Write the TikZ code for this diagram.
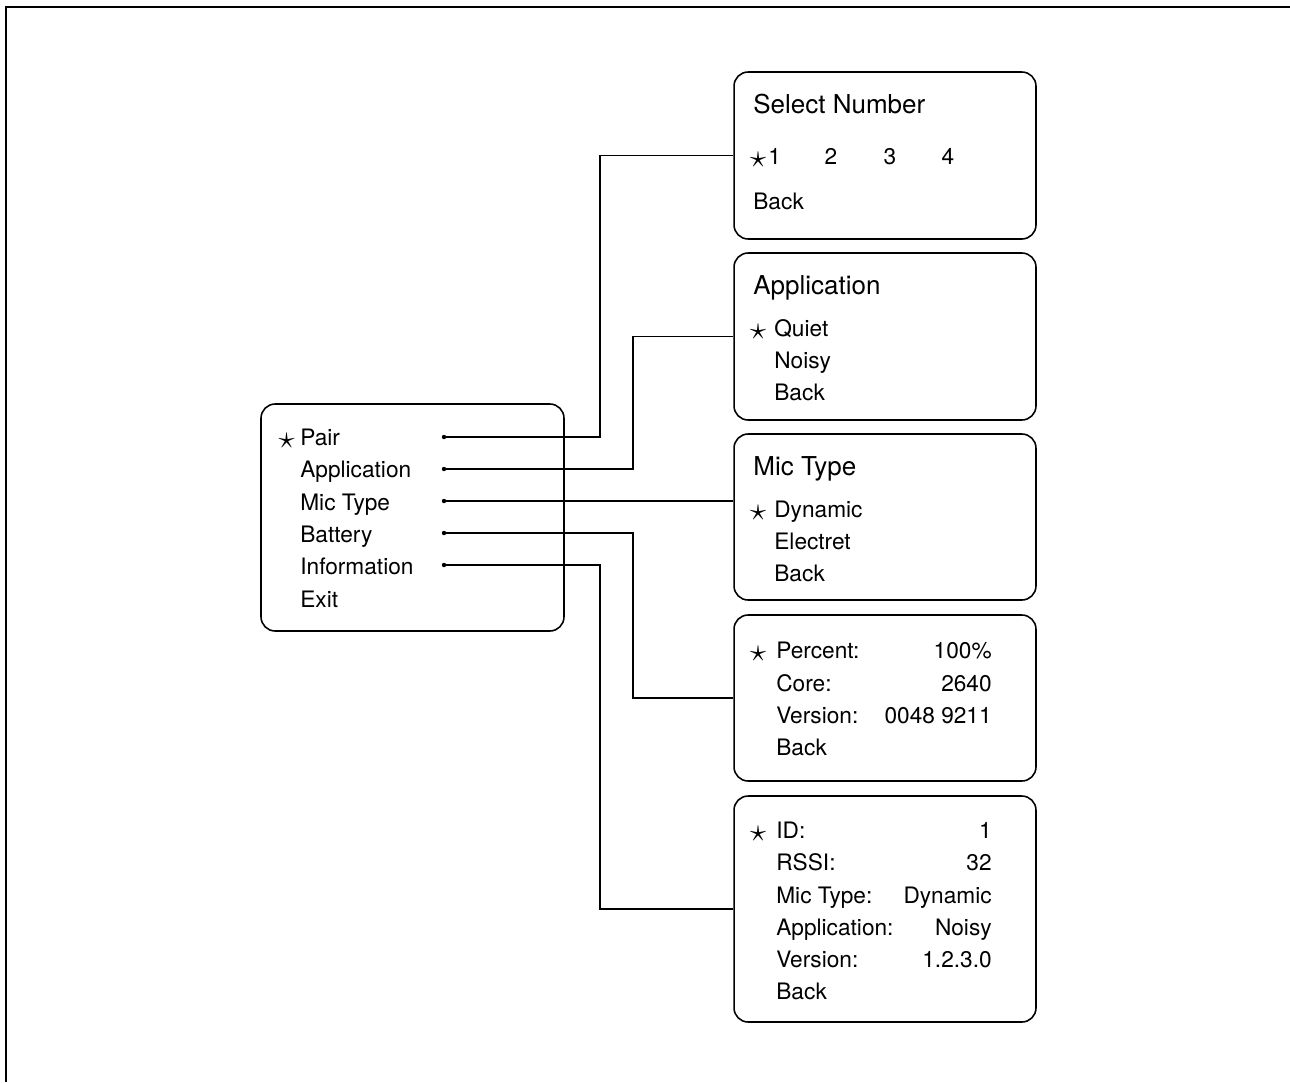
\documentclass[tikz,border=0pt]{standalone}
\usepackage{fontspec}
\setmainfont{TeX Gyre Heros}
\tikzset{
  menubox/.style={draw, line width=0.9pt, rounded corners=8pt, minimum width=6.04cm, inner sep=0pt},
  entry/.style={anchor=base west, inner sep=0pt, font=\fontsize{12.9}{15}\selectfont},
  value/.style={anchor=base east, inner sep=0pt, font=\fontsize{12.9}{15}\selectfont},
  title/.style={anchor=base west, inner sep=0pt, font=\fontsize{14.8}{17}\selectfont},
  link/.style={line width=0.8pt},
}
\newcommand{\selmark}{\raisebox{-2.2pt}{\scalebox{1.55}{$\star$}}}

\begin{document}
\begin{tikzpicture}[x=0.02cm, y=-0.02cm]
\useasboundingbox (0,0) rectangle (1290,1082);
% frame
\draw[line width=1.1pt] (6,1082) -- (6,7) -- (1290,7);

% main menu
\node[menubox, minimum width=6.06cm, minimum height=4.54cm] (main) at (412.5,517.5) {};
\node[entry, anchor=base] (mainsel) at (286.5,445) {\selmark};
\foreach \name/\txt/\y in {pair/Pair/445, app/Application/477, mic/Mic Type/510,
                           bat/Battery/542, info/Information/574, exit/Exit/607}
  \node[entry] (\name) at (300,\y) {\txt};

% end dots of the links
\foreach \name/\y in {pair/437, app/469, mic/501, bat/533, info/565}{
  \coordinate (d\name) at (444,\y);
  \fill (d\name) circle (2.2);
}

% select number
\node[menubox, minimum height=3.34cm] (selnum) at (885,155.5) {};
\node[title] (selnumtitle) at (753,113) {Select Number};
\node[entry, anchor=base] (selnumsel) at (758,164) {\selmark};
\node[entry] (n1) at (768,164) {1};
\foreach \n/\x in {2/831, 3/890, 4/948}
  \node[entry, anchor=base] (n\n) at (\x,164) {\n};
\node[entry] (selnumback) at (753,209) {Back};

% application
\node[menubox, minimum height=3.34cm] (appbox) at (885,336.5) {};
\node[title] (apptitle) at (753,294) {Application};
\node[entry, anchor=base] (appsel) at (758,336) {\selmark};
\foreach \name/\txt/\y in {quiet/Quiet/336, noisy/Noisy/368, appback/Back/400}
  \node[entry] (\name) at (774,\y) {\txt};

% mic type
\node[menubox, minimum height=3.32cm] (micbox) at (885,517) {};
\node[title] (mictitle) at (753,475) {Mic Type};
\node[entry, anchor=base] (micsel) at (758,517) {\selmark};
\foreach \name/\txt/\y in {dynamic/Dynamic/517, electret/Electret/549, micback/Back/581}
  \node[entry] (\name) at (774,\y) {\txt};

% battery
\node[menubox, minimum height=3.32cm] (batbox) at (885,698) {};
\node[entry, anchor=base] (batsel) at (758,658) {\selmark};
\foreach \name/\txt/\y in {percent/Percent:/658, core/Core:/691, batver/Version:/723, batback/Back/755}
  \node[entry] (\name) at (776,\y) {\txt};
\foreach \name/\txt/\y in {percentval/100\%/658, coreval/2640/691, batverval/0048 9211/723}
  \node[value] (\name) at (992,\y) {\txt};

% information
\node[menubox, minimum height=4.52cm] (infobox) at (885,909) {};
\node[entry, anchor=base] (infosel) at (758,838) {\selmark};
\foreach \name/\txt/\y in {id/ID:/838, rssi/RSSI:/870, infomic/Mic Type:/903,
                           infoapp/Application:/935, infover/Version:/967, infoback/Back/999}
  \node[entry] (\name) at (776,\y) {\txt};
\foreach \name/\txt/\y in {idval/1/838, rssival/32/870, infomicval/Dynamic/903,
                           infoappval/Noisy/935, infoverval/1.2.3.0/967}
  \node[value] (\name) at (992,\y) {\txt};

% links
\draw[link] (dpair) -- ++(156,0) |- (selnum.west);
\draw[link] (dapp) -- ++(189,0) |- (appbox.west);
\draw[link] (dmic) -- (dmic -| micbox.west);
\draw[link] (dbat) -- ++(189,0) |- (batbox.west);
\draw[link] (dinfo) -- ++(156,0) |- (infobox.west);

\end{tikzpicture}
\end{document}
